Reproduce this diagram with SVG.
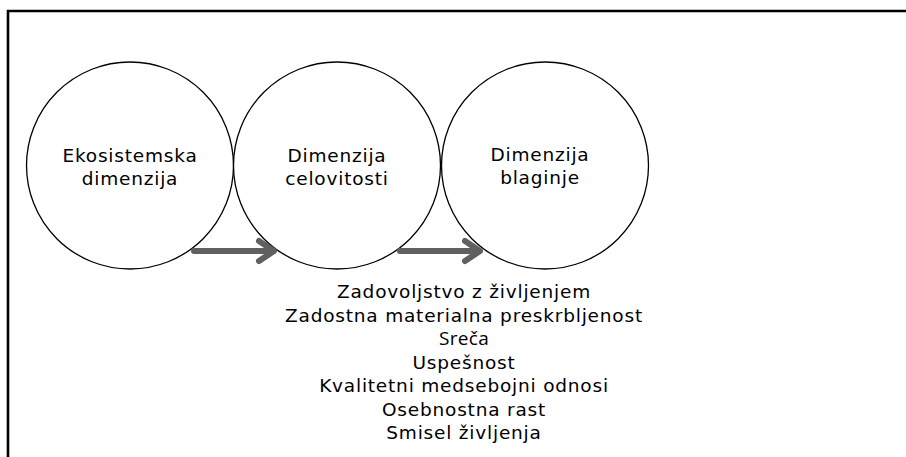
<svg xmlns="http://www.w3.org/2000/svg" width="906" height="457" viewBox="0 0 906 457">
<style>
.c{fill:#fff;stroke:#000;stroke-width:1.3}
.t{font-family:"DejaVu Sans",Verdana,sans-serif;font-size:18.5px;letter-spacing:0.8px;fill:#000;text-anchor:middle}
.a{fill:none;stroke:#606060;stroke-width:6;stroke-linecap:round;stroke-linejoin:round}
</style>
<rect width="906" height="457" fill="#fff"/>
<path d="M8 457V11H906" fill="none" stroke="#000" stroke-width="2.6"/>
<g id="n1"><circle class="c" cx="130" cy="165.5" r="103.5"/><text class="t" x="130" y="162">Ekosistemska</text><text class="t" x="130" y="185">dimenzija</text></g>
<g id="n2"><circle class="c" cx="337" cy="165.5" r="103.5"/><text class="t" x="337" y="162">Dimenzija</text><text class="t" x="337" y="185">celovitosti</text></g>
<g id="n3"><circle class="c" cx="545" cy="165.5" r="103.5"/><text class="t" x="540" y="161">Dimenzija</text><text class="t" x="540" y="184">blaginje</text></g>
<g id="connectors">
<path class="a" d="M194 251H272M259 241L274 251L259 261"/>
<path class="a" d="M400 251H478M465 241L480 251L465 261"/>
</g>
<g id="list">
<text class="t" x="464" y="298">Zadovoljstvo z življenjem</text>
<text class="t" x="464" y="321.5">Zadostna materialna preskrbljenost</text>
<text class="t" x="464" y="345" style="font-family:'Open Sans',sans-serif;font-size:19px;letter-spacing:0.3px">Sreča</text>
<text class="t" x="464" y="368.5">Uspešnost</text>
<text class="t" x="464" y="392">Kvalitetni medsebojni odnosi</text>
<text class="t" x="464" y="415.5">Osebnostna rast</text>
<text class="t" x="464" y="439">Smisel življenja</text>
</g>
</svg>
